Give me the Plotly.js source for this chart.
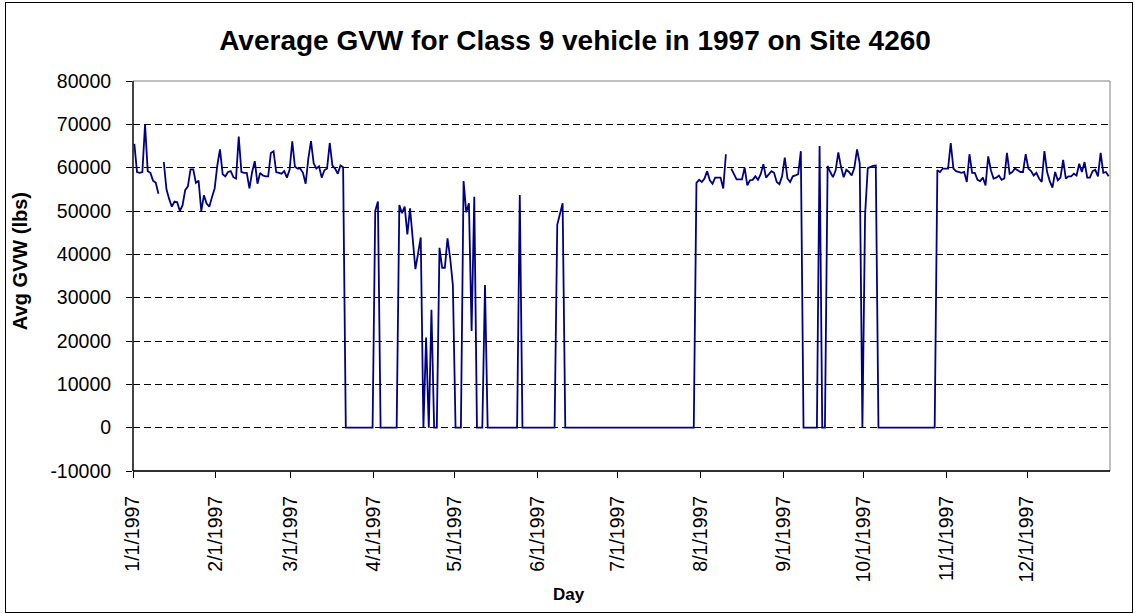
<!DOCTYPE html>
<html>
<head>
<meta charset="utf-8">
<script src="https://cdn.plot.ly/plotly-3.0.1.min.js"></script>
<style>
html,body{margin:0;padding:0;background:#fff;overflow:hidden}
#wrap{position:relative;width:1138px;height:613px}
#chart{width:1138px;height:613px}
#frame{position:absolute;left:5px;top:2px;width:1128px;height:611px;box-sizing:border-box;border:1px solid #000;pointer-events:none}
</style>
</head>
<body>
<div id="wrap"><div id="chart"></div><div id="frame"></div></div>
<script>
// ---- data (one value per day of 1997, null = no data) ----
const startYear = 1997;
const gvw = [
65500,59000,58800,59000,70000,59200,58800,57000,56500,54000,
null,61300,55000,52800,51000,52200,52000,50000,51300,54800,
55700,59600,59600,56500,57000,50000,53600,51700,51000,53200,
55200,60500,64200,58500,58000,59000,59200,57800,57500,67200,
59000,58800,58800,55200,59000,61500,56300,58800,58200,58000,
58000,63400,63800,59000,58800,58600,59200,57700,59500,66100,
60200,59800,59800,58800,56300,62100,66100,61000,59800,60300,
57700,59400,59800,65700,60500,59800,58600,60500,60100,0,
0,0,0,0,0,0,0,0,0,0,
50000,52200,0,0,0,0,0,0,0,51400,
49500,51000,44600,50600,43600,36600,40200,43900,0,20800,
0,27200,0,0,41500,36900,36900,43700,39100,32900,
0,0,0,56900,49700,51800,22300,53300,0,0,
0,32900,0,0,0,0,0,0,0,0,
0,0,0,0,53700,0,0,0,0,0,
0,0,0,0,0,0,0,0,46800,49300,
51800,0,0,0,0,0,0,0,0,0,
0,0,0,0,0,0,0,0,0,0,
0,0,0,0,0,0,0,0,0,0,
0,0,0,0,0,0,0,0,0,0,
0,0,0,0,0,0,0,0,0,0,
56500,57200,56700,57500,59200,57100,56300,57700,57700,57700,
55200,63100,null,59800,58600,57300,57300,57300,60000,55900,
57100,57200,58000,57200,58500,60800,57700,58500,59200,58800,
56700,56200,58000,62300,57500,56700,58000,58200,58500,63800,
0,0,0,0,0,0,65000,0,0,60400,
59000,57800,59400,63500,60200,57800,59500,59000,58200,60000,
64200,61000,0,49100,59900,60200,60400,60500,0,0,
0,0,0,0,0,0,0,0,0,0,
0,0,0,0,0,0,0,0,0,0,
59400,59000,59800,59800,59800,65700,59800,59200,59000,58800,
59000,56700,63100,58800,58800,57200,56900,57700,55900,62600,
59400,57500,57700,58200,57200,57500,63400,58600,59000,59800,
59400,59000,59000,63100,59800,59200,58200,58800,57500,56700,
63800,59000,56900,55400,59000,57100,57700,61800,57500,58000,
58000,58600,58200,60900,59000,61300,57700,57700,59200,59500,
58000,63400,58800,59000,58000
];
const monthTicks = ['1997-01-01','1997-02-01','1997-03-01','1997-04-01','1997-05-01','1997-06-01',
                    '1997-07-01','1997-08-01','1997-09-01','1997-10-01','1997-11-01','1997-12-01'];
const monthLabels = ['1/1/1997','2/1/1997','3/1/1997','4/1/1997','5/1/1997','6/1/1997',
                     '7/1/1997','8/1/1997','9/1/1997','10/1/1997','11/1/1997','12/1/1997'];
const yTicks = [-10000,0,10000,20000,30000,40000,50000,60000,70000,80000];
const yLabels = ['-10000','0','10000','20000','30000','40000','50000','60000','70000','80000'];
const titleText = 'Average GVW for Class 9 vehicle in 1997 on Site 4260';
const xTitle = 'Day';
const yTitle = 'Avg GVW (lbs)';

// day dates (each day plotted in the middle of its day slot, as Excel does)
function pad(n){return (n<10?'0':'')+n;}
const days = gvw.map((v,i)=>{
  const d = new Date(Date.UTC(startYear,0,1+i));
  return d.getUTCFullYear()+'-'+pad(d.getUTCMonth()+1)+'-'+pad(d.getUTCDate())+' 12:00';
});

const FONT = 'Arial, "Liberation Sans", Helvetica, sans-serif';

const trace = {
  x: days, y: gvw, type: 'scatter', mode: 'lines',
  line: {color: '#000080', width: 1.8},
  connectgaps: false, hoverinfo: 'x+y'
};

const layout = {
  width: 1138, height: 613,
  margin: {l: 133, r: 28, t: 81, b: 142, pad: 0},
  paper_bgcolor: '#fff', plot_bgcolor: '#fff',
  showlegend: false,
  font: {family: FONT, color: '#000'},
  title: {text: titleText, font: {family: FONT, size: 28, color: '#000', weight: 'bold'},
          xref: 'container', yref: 'container', x: 0.5053, y: 0.9347, xanchor: 'center', yanchor: 'middle'},
  xaxis: {
    type: 'date', range: ['1997-01-01', '1998-01-01'],
    tickmode: 'array', tickvals: monthTicks, ticktext: monthLabels,
    tickangle: -90, ticks: 'outside', ticklen: 6, tickcolor: '#000', tickwidth: 1,
    ticklabelstandoff: 10,
    tickfont: {family: FONT, size: 19.5, color: '#000'},
    showgrid: false, zeroline: false, showline: false, fixedrange: true
  },
  yaxis: {
    range: [-10000, 80000],
    tickmode: 'array', tickvals: yTicks, ticktext: yLabels,
    ticks: 'outside', ticklen: 6, tickcolor: '#000', tickwidth: 1,
    ticklabelstandoff: 11,
    tickfont: {family: FONT, size: 19.5, color: '#000'},
    showgrid: true, gridcolor: '#000', gridwidth: 1, griddash: '7px,4px',
    zeroline: false, showline: false, fixedrange: true
  },
  annotations: [
    {text: xTitle, xref: 'paper', yref: 'paper', x: 0.4463, y: -0.3154, xanchor: 'center', yanchor: 'middle',
     showarrow: false, font: {family: FONT, size: 17, color: '#000', weight: 'bold'}},
    {text: yTitle, xref: 'paper', yref: 'paper', x: -0.1157, y: 0.538, xanchor: 'center', yanchor: 'middle',
     textangle: -90, showarrow: false, font: {family: FONT, size: 20, color: '#000', weight: 'bold'}}
  ],
  shapes: [
    {type: 'rect', xref: 'paper', yref: 'paper', x0: 0, x1: 1, y0: 0, y1: 1,
     line: {color: '#808080', width: 1}, layer: 'above'},
    {type: 'line', xref: 'paper', yref: 'paper', x0: 0, x1: 0, y0: 0, y1: 1,
     line: {color: '#000', width: 1.3}, layer: 'above'},
    {type: 'line', xref: 'paper', yref: 'paper', x0: 0, x1: 1, y0: 0, y1: 0,
     line: {color: '#000', width: 1.3}, layer: 'above'}
  ]
};

Plotly.newPlot('chart', [trace], layout, {displayModeBar: false, staticPlot: true});
</script>
</body>
</html>
